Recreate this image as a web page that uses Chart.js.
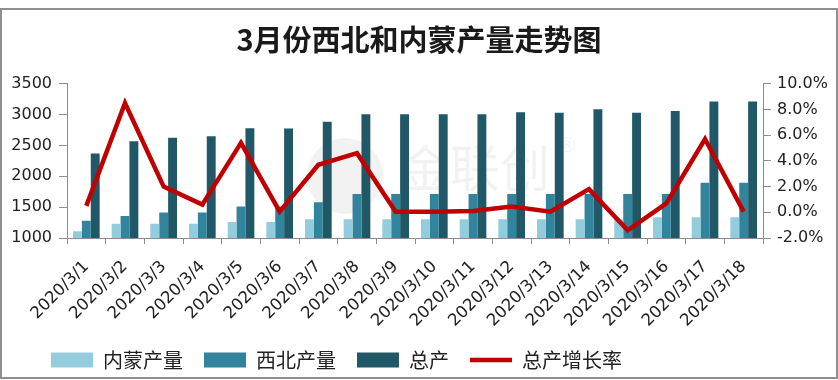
<!DOCTYPE html>
<html><head><meta charset="utf-8">
<script src="https://cdn.jsdelivr.net/npm/chart.js@4.4.1/dist/chart.umd.min.js"></script>
<style>html,body{margin:0;padding:0;background:#fff}#wrap{width:838px;height:380px;position:relative;background:#fff}</style>
</head><body><div id="wrap"><canvas id="c" width="838" height="380"></canvas></div>
<script>
const categories = ['2020/3/1','2020/3/2','2020/3/3','2020/3/4','2020/3/5','2020/3/6','2020/3/7','2020/3/8','2020/3/9','2020/3/10','2020/3/11','2020/3/12','2020/3/13','2020/3/14','2020/3/15','2020/3/16','2020/3/17','2020/3/18'];
const neimengOutput = [1110,1230,1230,1230,1260,1260,1305,1305,1305,1305,1305,1305,1302,1302,1302,1335,1335,1335];
const xibeiOutput = [1280,1357,1412,1412,1510,1510,1580,1713,1713,1713,1713,1713,1713,1713,1713,1713,1895,1895];
const totalOutput = [2372,2570,2626,2650,2780,2775,2883,3005,3005,3005,3005,3037,3032,3087,3032,3059,3212,3212];
const growthRate = [0.5,8.5,2.0,0.6,5.4,0.05,3.7,4.6,0.05,0.05,0.1,0.45,0.05,1.8,-1.4,0.7,5.7,0.05];
const seriesNames = ['内蒙产量','西北产量','总产','总产增长率'];
const leftTicks = {min:1000,max:3500,step:500};
const rightTicks = {min:-2,max:10,step:2};

const tickFont = {family:'DejaVu Sans', size:16};
const xTickFont = {family:'DejaVu Sans', size:16.5};
const axisColor = '#8c8c8c';
const textColor = '#222222';

const watermark = {
  id:'watermark',
  beforeDatasetsDraw(chart){
    const ctx = chart.ctx;
    ctx.save();
    ctx.fillStyle = 'rgba(0,0,0,0.05)';
    ctx.beginPath(); ctx.arc(345,176,38,0,Math.PI*2); ctx.fill();
    ctx.font = '50px "Noto Sans CJK SC"';
    ctx.textBaseline = 'middle';
    ctx.fillText('金联创', 400, 168);
    ctx.font = '22px "DejaVu Sans"';
    ctx.fillText('®', 556, 146);
    ctx.restore();
  }
};
const legendShift = {
  id:'legendShift',
  afterLayout(chart){
    if (chart.legend) { chart.legend.left = 30; }
  }
};
const frame = {
  id:'frame',
  afterDraw(chart){
    const ctx = chart.ctx;
    ctx.save();
    ctx.strokeStyle = '#8f8f8f'; ctx.lineWidth = 2;
    ctx.strokeRect(1, 9, 836, 369);
    ctx.restore();
  }
};

new Chart(document.getElementById('c'), {
  type:'bar',
  data:{
    labels: categories,
    datasets:[
      {label:seriesNames[0], data:neimengOutput, backgroundColor:'#93CDDD', borderWidth:0, yAxisID:'y', order:1, pointStyle:'rect', categoryPercentage:0.69, barPercentage:1.0},
      {label:seriesNames[1], data:xibeiOutput, backgroundColor:'#31849B', borderWidth:0, yAxisID:'y', order:1, pointStyle:'rect', categoryPercentage:0.69, barPercentage:1.0},
      {label:seriesNames[2], data:totalOutput, backgroundColor:'#215867', borderWidth:0, yAxisID:'y', order:1, pointStyle:'rect', categoryPercentage:0.69, barPercentage:1.0},
      {type:'line', label:seriesNames[3], data:growthRate, borderColor:'#C00000', backgroundColor:'#C00000', borderWidth:4.5, pointRadius:0, pointStyle:'line', tension:0, yAxisID:'y1', order:0}
    ]
  },
  options:{
    responsive:false, animation:false, devicePixelRatio:1,
    layout:{padding:{left:0,right:0,top:0,bottom:0}},
    plugins:{
      tooltip:{enabled:false},
      title:{display:true, text:'3月份西北和内蒙产量走势图', color:'#1a1a1a', font:{family:'Noto Sans CJK SC', size:29, weight:'bold'}, padding:{top:23,bottom:26}},
      legend:{position:'bottom', align:'start',
        labels:{usePointStyle:true, pointStyleWidth:42, boxHeight:15, padding:21, color:textColor,
          font:{family:'Noto Sans CJK SC', size:20},
          sort:(a,b)=>a.datasetIndex-b.datasetIndex}}
    },
    scales:{
      x:{
        grid:{display:true, drawOnChartArea:false, offset:true, tickLength:6, color:axisColor},
        border:{color:axisColor},
        ticks:{autoSkip:false, minRotation:45, maxRotation:45, padding:13, color:textColor, font:xTickFont},
        afterFit(s){ s.height = 91; }
      },
      y:{
        position:'left', min:leftTicks.min, max:leftTicks.max,
        ticks:{stepSize:leftTicks.step, padding:7, color:textColor, font:tickFont, callback:v=>String(v)},
        grid:{drawOnChartArea:false, tickLength:8, color:axisColor},
        border:{color:axisColor},
        afterFit(s){ s.width = 67; }
      },
      y1:{
        position:'right', min:rightTicks.min, max:rightTicks.max,
        ticks:{stepSize:rightTicks.step, padding:6, color:textColor, font:tickFont, callback:v=>Number(v).toFixed(1)+'%'},
        grid:{drawOnChartArea:false, tickLength:8, color:axisColor},
        border:{color:axisColor},
        afterFit(s){ s.width = 75; }
      }
    }
  },
  plugins:[watermark, legendShift, frame]
});
</script></body></html>
